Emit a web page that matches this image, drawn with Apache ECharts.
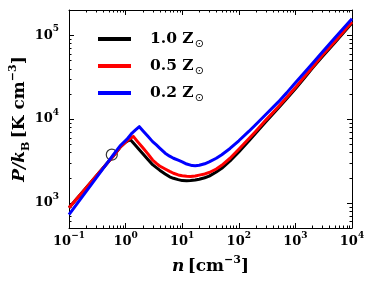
<!DOCTYPE html>
<html>
<head>
<meta charset="utf-8">
<script src="https://cdn.jsdelivr.net/npm/echarts@6/dist/echarts.min.js"></script>
<style>
html,body{margin:0;padding:0;background:#fff;}
#c{width:374px;height:287px;}
</style>
</head>
<body>
<div id="c"></div>
<script>
// ---- data ----
const seriesNames = ['1.0 Z⊙', '0.5 Z⊙', '0.2 Z⊙'];
const seriesColors = ['#000000', '#ff0000', '#0000ff'];

const nBlack = [0.1, 0.2, 0.4, 0.6, 0.8, 1.0, 1.1, 1.22, 1.4, 1.7, 2, 2.5, 3, 3.5, 4, 5, 6, 7, 8.5, 10, 12, 14, 17, 20, 25, 30, 40, 50, 70, 100, 150, 200, 300, 500, 700, 1000, 1500, 2000, 3000, 5000, 7000, 10000];
const pBlack = [870, 1500, 2600, 3580, 4600, 5300, 5500, 5650, 5090, 4390, 3880, 3270, 2850, 2630, 2450, 2210, 2040, 1960, 1890, 1840, 1830, 1840, 1870, 1910, 1990, 2080, 2330, 2580, 3160, 4050, 5450, 6800, 9250, 13500, 17450, 23000, 32000, 40500, 55600, 82000, 106000, 140000];

const nRed = [0.1, 0.2, 0.4, 0.6, 0.8, 1.0, 1.15, 1.37, 1.6, 2, 2.5, 3, 3.5, 4, 5, 6, 7, 8.5, 10, 12, 14, 17, 20, 25, 30, 40, 50, 70, 100, 150, 200, 300, 500, 700, 1000, 1500, 2000, 3000, 5000, 7000, 10000];
const pRed = [870, 1500, 2600, 3580, 4600, 5300, 5750, 6200, 5450, 4560, 3810, 3240, 2950, 2750, 2530, 2370, 2250, 2150, 2100, 2070, 2060, 2090, 2140, 2210, 2300, 2530, 2800, 3400, 4350, 5800, 7150, 9700, 14000, 18000, 23700, 33000, 41500, 57500, 84000, 109000, 144000];

const nBlue = [0.1, 0.2, 0.4, 0.6, 0.8, 1.05, 1.3, 1.5, 1.75, 2, 2.5, 3, 3.5, 4, 5, 6, 7, 8.5, 10, 12, 15, 17, 20, 25, 30, 40, 50, 70, 100, 150, 200, 300, 500, 700, 1000, 1500, 2000, 3000, 5000, 7000, 10000];
const pBlue = [720, 1360, 2550, 3700, 4790, 5700, 6800, 7400, 8100, 7300, 6170, 5370, 4900, 4500, 3910, 3600, 3400, 3220, 3080, 2900, 2780, 2770, 2800, 2920, 3080, 3400, 3750, 4450, 5500, 7100, 8600, 11300, 16000, 20500, 27000, 37000, 46000, 63000, 93000, 120000, 157000];

const markerN = [0.57];
const markerP = [3750];

const xMin = 0.1, xMax = 10000;
const yMin = 500, yMax = 200000;

const xMinorTicks = [];
for (let e = -1; e <= 3; e++) for (let m = 2; m <= 9; m++) xMinorTicks.push(m * Math.pow(10, e));
const yMinorTicks = [];
for (let e = 2; e <= 5; e++) for (let m = 2; m <= 9; m++) {
  const v = m * Math.pow(10, e);
  if (v > yMin && v < yMax) yMinorTicks.push(v);
}

// ---- chart ----
const FONT = 'DejaVu Serif';
const zip = (a, b) => a.map((v, i) => [v, b[i]]);

function powLabel(v) {
  const e = Math.round(Math.log10(v));
  if (Math.abs(Math.log10(v) - e) > 1e-6) return '';
  return '{b|10}{s|' + String(e).replace('-', '−') + '}';
}
const tickRich = {
  b: {fontFamily: FONT, fontWeight: 'bold', fontSize: 13, lineHeight: 22, color: '#000'},
  s: {fontFamily: FONT, fontWeight: 'bold', fontSize: 9, lineHeight: 4, verticalAlign: 'top', color: '#000'}
};

const chart = echarts.init(document.getElementById('c'), null, {renderer: 'canvas'});

function minorTickSeries(vals, dir) {
  return {
    type: 'custom',
    silent: true,
    z: 1,
    xAxisIndex: 0, yAxisIndex: 0,
    data: vals.map(v => dir === 'x' ? [v, 1000] : [1, v]),
    renderItem: function (params, api) {
      const cs = params.coordSys;
      const p = api.coord([api.value(0), api.value(1)]);
      const L = 2.5;
      const st = {stroke: '#000', lineWidth: 1};
      if (dir === 'x') {
        const x = Math.round(p[0]) + 0.5;
        return {type: 'group', children: [
          {type: 'line', shape: {x1: x, y1: cs.y + cs.height, x2: x, y2: cs.y + cs.height - L}, style: st},
          {type: 'line', shape: {x1: x, y1: cs.y, x2: x, y2: cs.y + L}, style: st}
        ]};
      } else {
        const y = Math.round(p[1]) + 0.5;
        return {type: 'group', children: [
          {type: 'line', shape: {x1: cs.x, y1: y, x2: cs.x + L, y2: y}, style: st},
          {type: 'line', shape: {x1: cs.x + cs.width, y1: y, x2: cs.x + cs.width - L, y2: y}, style: st}
        ]};
      }
    }
  };
}

const axisCommon = {
  axisLine: {show: true, lineStyle: {color: '#000', width: 1}},
  axisTick: {show: true, inside: true, length: 5, lineStyle: {color: '#000', width: 1}},
  splitLine: {show: false},
  minorTick: {show: false},
  minorSplitLine: {show: false}
};

const option = {
  animation: false,
  backgroundColor: '#fff',
  grid: {left: 69, right: 22, top: 10, bottom: 59, containLabel: false, outerBoundsMode: 'none'},
  legend: {
    show: true,
    orient: 'vertical',
    left: 98,
    top: 31,
    padding: 0,
    itemGap: 8,
    itemWidth: 33,
    itemHeight: 4,
    icon: 'rect',
    data: seriesNames,
    formatter: function (name) {
      const parts = name.split(' ');
      return '{a|' + parts[0] + ' Z}{s|⊙}';
    },
    textStyle: {
      padding: [0, 0, 0, 14],
      rich: {
        a: {fontFamily: FONT, fontWeight: 'bold', fontSize: 15.5, lineHeight: 22, color: '#000'},
        s: {fontFamily: 'DejaVu Sans', fontSize: 11, lineHeight: 11, verticalAlign: 'bottom', color: '#000', padding: [0, 0, 0, 1]}
      }
    }
  },
  xAxis: [
    Object.assign({}, axisCommon, {
      type: 'log', logBase: 10, min: xMin, max: xMax, position: 'bottom',
      name: '{i|n} {r|[cm}{s|−3}{r|]}',
      nameLocation: 'middle', nameGap: 27, nameMoveOverlap: false,
      nameTextStyle: {rich: {
        i: {fontFamily: FONT, fontWeight: 'bold', fontStyle: 'italic', fontSize: 17, lineHeight: 24, color: '#000'},
        r: {fontFamily: FONT, fontWeight: 'bold', fontSize: 17, lineHeight: 24, color: '#000'},
        s: {fontFamily: FONT, fontWeight: 'bold', fontSize: 11, lineHeight: 6, verticalAlign: 'top', color: '#000'}
      }},
      axisLabel: {show: true, margin: 3, formatter: powLabel, rich: tickRich, showMinLabel: true, showMaxLabel: true}
    }),
    Object.assign({}, axisCommon, {
      type: 'log', logBase: 10, min: xMin, max: xMax, position: 'top',
      axisLabel: {show: false}
    })
  ],
  yAxis: [
    Object.assign({}, axisCommon, {
      type: 'log', logBase: 10, min: yMin, max: yMax, position: 'left',
      name: '{i|P/k}{b|B} {r|[K cm}{s|−3}{r|]}',
      nameLocation: 'middle', nameRotate: 90, nameGap: 37, nameMoveOverlap: false,
      nameTextStyle: {rich: {
        i: {fontFamily: FONT, fontWeight: 'bold', fontStyle: 'italic', fontSize: 17, lineHeight: 24, color: '#000'},
        b: {fontFamily: FONT, fontWeight: 'bold', fontSize: 11, lineHeight: 10, verticalAlign: 'bottom', color: '#000'},
        r: {fontFamily: FONT, fontWeight: 'bold', fontSize: 17, lineHeight: 24, color: '#000'},
        s: {fontFamily: FONT, fontWeight: 'bold', fontSize: 11, lineHeight: 6, verticalAlign: 'top', color: '#000'}
      }},
      axisLabel: {show: true, margin: 10, formatter: powLabel, rich: tickRich, showMinLabel: false, showMaxLabel: false}
    }),
    Object.assign({}, axisCommon, {
      type: 'log', logBase: 10, min: yMin, max: yMax, position: 'right',
      axisLabel: {show: false}
    })
  ],
  series: [
    minorTickSeries(xMinorTicks, 'x'),
    minorTickSeries(yMinorTicks, 'y'),
    {
      type: 'scatter', name: 'marker', z: 2,
      data: zip(markerN, markerP),
      symbol: 'circle', symbolSize: 11,
      itemStyle: {color: 'rgba(0,0,0,0)', borderColor: '#000', borderWidth: 1.2},
      silent: true
    },
    {type: 'line', name: seriesNames[0], data: zip(nBlack, pBlack), showSymbol: false, smooth: false, z: 3,
      color: seriesColors[0], lineStyle: {color: seriesColors[0], width: 3, join: 'round'}},
    {type: 'line', name: seriesNames[1], data: zip(nRed, pRed), showSymbol: false, smooth: false, z: 4,
      color: seriesColors[1], lineStyle: {color: seriesColors[1], width: 3, join: 'round'}},
    {type: 'line', name: seriesNames[2], data: zip(nBlue, pBlue), showSymbol: false, smooth: false, z: 5,
      color: seriesColors[2], lineStyle: {color: seriesColors[2], width: 3, join: 'round'}}
  ]
};
chart.setOption(option);
</script>
</body>
</html>
